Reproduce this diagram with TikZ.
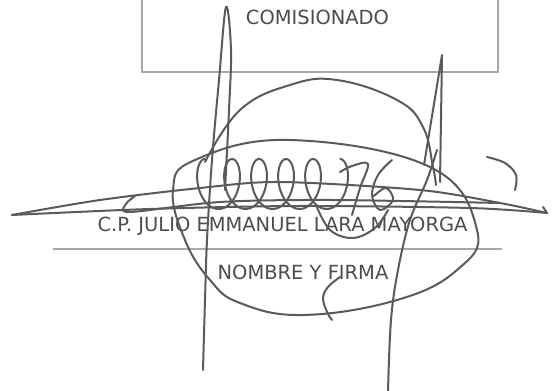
\documentclass[tikz,border=0pt]{standalone}
\usepackage{fontspec}
\setmainfont{DejaVu Sans}
\usepackage{xcolor}
\definecolor{inkgray}{HTML}{5A5A5A}
\definecolor{textgray}{HTML}{4C4C4C}
\definecolor{rulegray}{HTML}{A8A8A8}
\usetikzlibrary{calc,positioning}
\tikzset{
	ink/.style={draw=inkgray, line width=1.5pt, line cap=round, line join=round},
	formtext/.style={text=textgray, font=\fontsize{14.6}{17}\selectfont, inner sep=0pt, anchor=base},
	formrule/.style={draw=rulegray, line width=0.8pt}
}
\begin{document}
\begin{tikzpicture}[x=0.75pt,y=-0.75pt]
	\useasboundingbox (0,0) rectangle (553,391);

	% Drawing box of the commissioner
	\draw [formrule] (142,-5) rectangle (498,72);%

	% Marking text COMISIONADO
	\node [formtext] (comis) at (317.5,25) {COMISIONADO};%

	% Marking name
	\node [formtext] (name) at (282.5,232) {C.P. JULIO EMMANUEL LARA MAYORGA};%

	% Drawing signature line
	\coordinate (ruleL) at (53,249);
	\coordinate (ruleR) at (502,249);
	\draw [formrule] (ruleL) -- (ruleR);%

	% Marking text NOMBRE Y FIRMA
	\node [formtext] (firma) at (303,280) {NOMBRE Y FIRMA};%

	% Drawing left spike
	\draw [ink] plot[smooth, tension=0.6] coordinates {(225,190) (229,110) (231,50) (226,7) (219,80) (212,160) (207,240) (205,300) (203,370)};%

	% Drawing right spike
	\draw [ink] (440,182) -- (442,55) -- (424,165);%
	\draw [ink] plot[smooth, tension=0.6] coordinates {(437,150) (427,180) (410,220) (398,270) (391,320) (388,391)};%

	% Drawing dome
	\draw [ink] plot[smooth, tension=0.7] coordinates {(205,162) (240,110) (290,85) (337,80) (397,100) (423,127) (433,167) (436,185)};%

	% Drawing big loop
	\draw [ink] plot[smooth cycle, tension=0.7] coordinates {(173,190) (195,160) (290,140) (430,167) (477,230) (457,270) (397,300) (303,315) (240,303) (210,280) (185,240)};%

	% Drawing long stroke
	\draw [ink] plot[smooth, tension=0.5] coordinates {(12,215) (100,200) (200,188) (280,182) (420,190) (500,203) (547,213)} -- (543,207);%
	\draw [ink] plot[smooth, tension=0.5] coordinates {(12,215) (150,209) (300,206) (470,208) (547,213)};%
	\draw [ink] plot[smooth, tension=0.5] coordinates {(135,196) (126,204) (130,212) (220,202) (330,200) (500,203)};%

	% Drawing small loops
	\draw [ink] plot[domain=0:31.4, samples=240, variable=\t] ({205+4.3*\t-14*sin(\t r)}, {184-25*cos(\t r)});%

	% Drawing 7 and 6
	\draw [ink] plot[smooth, tension=0.6] coordinates {(340,172) (352,166) (368,164) (360,188) (352,215)};%
	\draw [ink] plot[smooth, tension=0.6] coordinates {(392,160) (378,175) (372,195) (380,210) (393,200) (386,188) (374,196)};%
	\draw [ink] plot[smooth, tension=0.6] coordinates {(316,205) (330,230) (353,238) (375,228) (388,210)};%

	% Drawing right hook
	\draw [ink] plot[smooth, tension=0.6] coordinates {(487,157) (505,163) (516,175) (515,190)};%

	% Drawing tail under text
	\draw [ink] plot[smooth, tension=0.6] coordinates {(340,277) (328,287) (323,298) (327,312) (332,320)};%
\end{tikzpicture}
\end{document}
